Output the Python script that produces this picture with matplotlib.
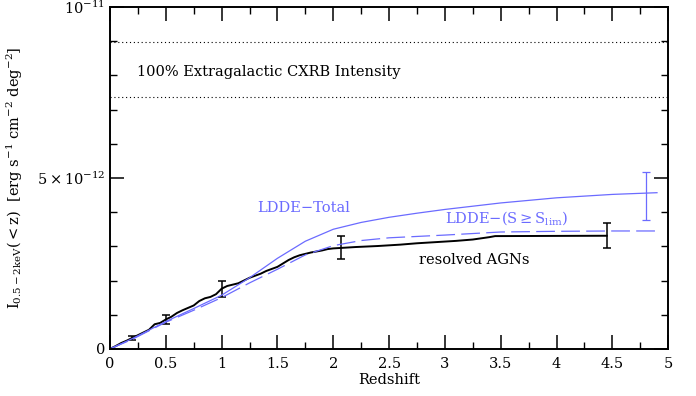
import matplotlib
matplotlib.use("Agg")
import matplotlib.pyplot as plt
from matplotlib.ticker import MultipleLocator, FixedLocator, FuncFormatter

plt.rcParams['font.family'] = ['DejaVu Serif']
plt.rcParams['mathtext.fontset'] = 'dejavuserif'

# resolved AGNs (units of 1e-12)
z_res = [0.00, 0.05, 0.10, 0.15, 0.20, 0.25, 0.30, 0.35, 0.40, 0.45, 0.50, 0.55,
         0.60, 0.65, 0.70, 0.75, 0.80, 0.85, 0.90, 0.95, 1.00, 1.05, 1.10, 1.15,
         1.20, 1.25, 1.30, 1.35, 1.40, 1.45, 1.50, 1.55, 1.60, 1.65, 1.70, 1.75,
         1.80, 1.85, 1.90, 1.95, 2.00, 2.10, 2.20, 2.40, 2.60, 2.75, 2.90, 3.10,
         3.25, 3.40, 3.45, 4.45]
i_res = [0.00, 0.08, 0.17, 0.24, 0.32, 0.40, 0.48, 0.56, 0.72, 0.76, 0.86, 0.94,
         1.05, 1.13, 1.20, 1.27, 1.40, 1.48, 1.52, 1.60, 1.76, 1.84, 1.88, 1.92,
         2.00, 2.08, 2.14, 2.20, 2.28, 2.34, 2.40, 2.50, 2.60, 2.68, 2.74, 2.78,
         2.82, 2.85, 2.88, 2.92, 2.94, 2.96, 2.98, 3.01, 3.05, 3.09, 3.12, 3.16,
         3.20, 3.27, 3.30, 3.31]

# resolved error bars
z_err = [0.20, 0.50, 1.00, 2.07, 4.45]
i_err = [0.32, 0.86, 1.76, 2.96, 3.31]
e_err = [0.07, 0.14, 0.23, 0.34, 0.37]

# LDDE total
z_tot = [0.0, 0.2, 0.5, 0.75, 1.0, 1.25, 1.5, 1.75, 2.0, 2.25, 2.5, 2.75, 3.0,
         3.5, 4.0, 4.5, 4.9]
i_tot = [0.0, 0.30, 0.80, 1.18, 1.57, 2.08, 2.65, 3.15, 3.50, 3.70, 3.85, 3.97,
         4.08, 4.27, 4.42, 4.52, 4.57]

# LDDE (S >= S_lim)
z_lim = [0.0, 0.2, 0.5, 0.75, 1.0, 1.25, 1.5, 1.75, 2.0, 2.25, 2.5, 3.0, 3.5,
         4.0, 4.5, 4.9]
i_lim = [0.0, 0.28, 0.78, 1.13, 1.50, 1.93, 2.33, 2.75, 3.02, 3.17, 3.25, 3.33,
         3.42, 3.44, 3.45, 3.45]

# LDDE total error bar
z_terr = [4.80]
i_terr = [4.47]
e_terr = [0.70]

# CXRB band
cxrb = [8.98, 7.37]

scale = 1e-12
blue = '#6b6bff'

fig = plt.figure(figsize=(6.96, 3.96), dpi=100)
ax = fig.add_axes([0.158, 0.119, 0.802, 0.863])

ax.plot(z_res, [v * scale for v in i_res], color='black', lw=1.4)
ax.errorbar(z_err, [v * scale for v in i_err], yerr=[v * scale for v in e_err],
            fmt='none', ecolor='black', elinewidth=1.1, capsize=3, capthick=1.1)
ax.plot(z_tot, [v * scale for v in i_tot], color=blue, lw=0.9)
ax.plot(z_lim, [v * scale for v in i_lim], color=blue, lw=0.9, dashes=(15, 5))
ax.errorbar(z_terr, [v * scale for v in i_terr], yerr=[v * scale for v in e_terr],
            fmt='none', ecolor=blue, elinewidth=0.9, capsize=3, capthick=0.9)
for c in cxrb:
    ax.axhline(c * scale, color='black', lw=0.8, ls=(0, (1, 2.5)))

ax.set_xlim(0, 5)
ax.set_ylim(0, 1e-11)
ax.xaxis.set_major_locator(MultipleLocator(0.5))
ax.xaxis.set_minor_locator(MultipleLocator(0.25))
ax.xaxis.set_major_formatter(FuncFormatter(lambda v, p: '%g' % v))
ytick_vals = [0, 5e-12, 1e-11]
ytick_labs = ['0', r'$5\times10^{-12}$', r'$10^{-11}$']
ax.yaxis.set_major_locator(FixedLocator(ytick_vals))
ax.yaxis.set_minor_locator(MultipleLocator(1e-12))
ax.set_yticklabels(ytick_labs)
ax.tick_params(which='both', direction='in', top=True, right=True, labelsize=10.5)
ax.tick_params(which='major', length=10, width=1.1)
ax.tick_params(which='minor', length=5, width=1.0)
ax.tick_params(axis='x', pad=6)
for s in ax.spines.values():
    s.set_linewidth(1.4)

ax.set_xlabel('Redshift', fontsize=10.5, labelpad=1)
ax.set_ylabel(r'$\mathrm{I_{0.5-2keV}(<z)}$  [erg s$^{-1}$ cm$^{-2}$ deg$^{-2}$]',
              fontsize=10.5, labelpad=8)

ax.text(0.24, 8.1e-12, '100% Extragalactic CXRB Intensity', fontsize=10.5, va='center')
ax.text(1.32, 4.12e-12, 'LDDE\u2212Total', color=blue, fontsize=10.5, va='center')
ax.text(3.0, 3.83e-12, r'LDDE$-$(S$\geq$S$_{\mathrm{lim}}$)', color=blue, fontsize=10.5, va='center')
ax.text(2.77, 2.6e-12, 'resolved AGNs', color='black', fontsize=10.5, va='center')

fig.savefig('out.png', dpi=100)
